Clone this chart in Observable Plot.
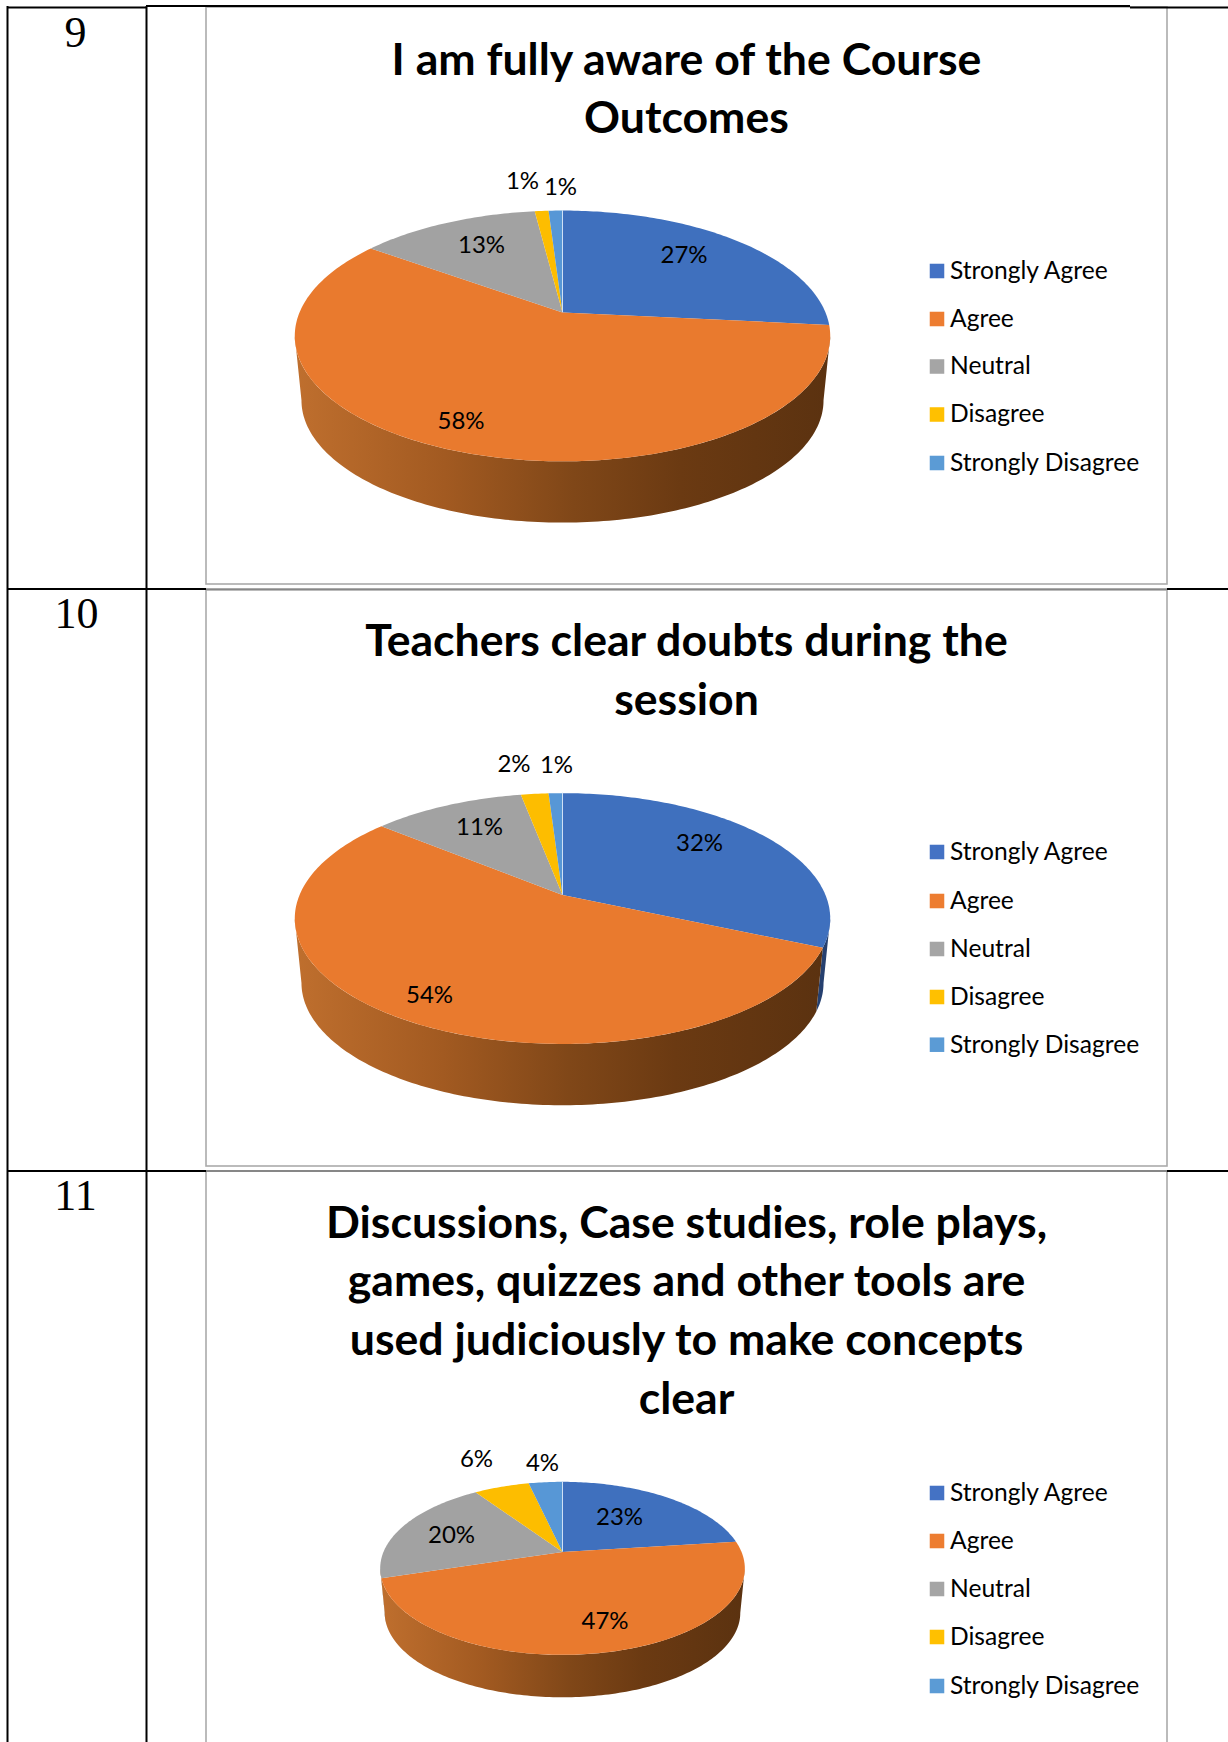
<!DOCTYPE html>
<html><head><meta charset="utf-8">
<style>html,body{margin:0;padding:0;background:#fff}svg{display:block}</style>
<script src="https://cdn.jsdelivr.net/npm/d3@7"></script>
<script src="https://cdn.jsdelivr.net/npm/@observablehq/plot@0.6"></script>
</head><body><div id="chart"></div>
<script>
// ---- data ----
const categories = ["Strongly Agree", "Agree", "Neutral", "Disagree", "Strongly Disagree"];
const rowNumbers = ["9", "10", "11"];
const titles1 = ["I am fully aware of the Course", "Outcomes"];
const titles2 = ["Teachers clear doubts during the", "session"];
const titles3 = ["Discussions, Case studies, role plays,", "games, quizzes and other tools are", "used judiciously to make concepts", "clear"];
// slice sizes; the labels print them rounded
const values1 = [26.6, 58.4, 13, 1, 1];
const values2 = [31.6, 54.4, 11, 2, 1];
const values3 = [23, 47.2, 20.3, 5.9, 3.6];

// ---- styles and layout ----
const colors = ["#4472c4", "#ed7d31", "#a5a5a5", "#ffc000", "#5b9bd5"];
const topColors = ["#3f70be", "#e97a2e", "#a2a2a2", "#fdbd00", "#5797d6"];
const W = 1228, H = 1742;
const LABEL_FONT = "Lato, sans-serif";
const TITLE_FONT = "Lato, sans-serif";
const panels = [
  {values: values1, titles: titles1, titleY: [60, 118], legendY: [270.5, 318.5, 366, 414, 462.5],
   cx: 562, cy: 312, R: 263, Ry: 121, k: 0.187, drop: 65, numX: 75, numY: 32,
   labelXY: [[683.5,254.5],[460.5,421],[481,244.5],[522,181],[560,187]]},
  {values: values2, titles: titles2, titleY: [641, 700], legendY: [851.5, 900.5, 948.5, 996.5, 1044.2],
   cx: 562, cy: 894.6, R: 263, Ry: 121, k: 0.187, drop: 65, numX: 76, numY: 613,
   labelXY: [[699,842.5],[429,994.6],[479,827],[513.5,763.5],[556,764.5]]},
  {values: values3, titles: titles3, titleY: [1223, 1281.5, 1340, 1399], legendY: [1492.5, 1540.5, 1588.5, 1636.5, 1685.5],
   cx: 562, cy: 1551.4, R: 179, Ry: 83.4, k: 0.19, drop: 45, numX: 75, numY: 1195,
   labelXY: [[619,1517],[604.5,1621],[451,1534.7],[476,1459],[542,1462.5]]}
];
const frames = [[206,7,1167,584],[206,590,1167,1166],[206,1171,1167,1760]];

// projection of a point of the tilted disc, with perspective
function project(p, deg, low) {
  const t = deg * Math.PI / 180, u = Math.sin(t), v = -Math.cos(t), w = 1 / (1 - p.k * v), s = low ? 0.975 : 1;
  return {x: p.cx + s * p.R * u * w, y: p.cy + (low ? p.drop : 0) + s * p.Ry * v * w};
}
function arcPoints(p, a0, a1, low) {
  const n = Math.max(2, Math.ceil(a1 - a0)), out = [];
  for (let i = 0; i <= n; i++) out.push(project(p, a0 + (a1 - a0) * i / n, low));
  return out;
}
const topRows = [], wallRows = [], orangeWallRows = [], labelRows = [], seamRows = [];
panels.forEach((p, pi) => {
  let acc = 0;
  const total = d3.sum(p.values);
  // only the part of the side facing the viewer is drawn: between the two silhouette angles
  const sil0 = Math.acos(-p.k) * 180 / Math.PI, sil1 = 360 - sil0;
  p.values.forEach((val, i) => {
    const a0 = acc / total * 360, a1 = (acc + val) / total * 360;
    acc += val;
    const id = pi + "-" + i;
    [{x: p.cx, y: p.cy}, ...arcPoints(p, a0, a1, false)].forEach(q => topRows.push({...q, id, cat: categories[i]}));
    const isMain = i === 1;
    const b0 = Math.max(a0, sil0), b1 = isMain ? sil1 : Math.min(a1, sil1);
    if (b1 > b0) {
      const wall = [...arcPoints(p, b0, b1, false), ...arcPoints(p, b0, b1, true).reverse()];
      wall.forEach(q => (isMain ? orangeWallRows : wallRows).push({...q, id, cat: categories[i]}));
    }
    labelRows.push({x: p.labelXY[i][0], y: p.labelXY[i][1], text: Math.round(val) + "%"});
  });
  seamRows.push({x: p.cx, y1: project(p, 0, false).y, y2: p.cy});
});
const titleRows = panels.flatMap(p => p.titles.map((text, i) => ({text, x: 686, y: p.titleY[i]})));
const legendRows = panels.flatMap(p => categories.map((cat, i) => ({cat, y: p.legendY[i]})));
const numberRows = panels.map((p, i) => ({text: rowNumbers[i], x: p.numX, y: p.numY}));

const gradient = () => {
  const ns = "http://www.w3.org/2000/svg";
  const defs = document.createElementNS(ns, "defs");
  const g = document.createElementNS(ns, "linearGradient");
  g.setAttribute("id", "orangeWall");
  [[0, "#bf6f2e"], [0.28, "#a25a21"], [0.52, "#804718"], [0.72, "#6b3a12"], [1, "#5b3210"]].forEach(([o, c]) => {
    const st = document.createElementNS(ns, "stop");
    st.setAttribute("offset", o); st.setAttribute("stop-color", c); g.appendChild(st);
  });
  defs.appendChild(g);
  return defs;
};
const rect = (x1, y1, x2, y2, o) => Plot.rect([{x1, y1, x2, y2}], {x1: "x1", y1: "y1", x2: "x2", y2: "y2", ...o});
const topFill = d => topColors[categories.indexOf(d.cat)];

const plot = Plot.plot({
  width: W, height: H, margin: 0,
  x: {domain: [0, W], range: [0, W], axis: null},
  y: {domain: [0, H], range: [0, H], axis: null},
  color: {domain: categories, range: colors},
  marks: [
    gradient,
    // chart frames
    ...frames.map(([a, b, c, d]) => rect(a, b, c, d, {fill: "white", stroke: "#ababab", strokeWidth: 1.6})),
    // table rules
    Plot.ruleY([{y: 7, a: 7, b: 146}, {y: 5.5, a: 146, b: 1130}, {y: 7, a: 1130, b: W}], {y: "y", x1: "a", x2: "b", stroke: "black", strokeWidth: 2}),
    Plot.ruleY([{y: 588.5, a: 7, b: 206}, {y: 1170.5, a: 7, b: 206}, {y: 588.5, a: 1167, b: W}, {y: 1170.5, a: 1167, b: W}], {y: "y", x1: "a", x2: "b", stroke: "black", strokeWidth: 2}),
    Plot.ruleY([{y: 588.5}, {y: 1170.5}], {y: "y", x1: 206, x2: 1167, stroke: "#555", strokeWidth: 1.2}),
    Plot.ruleX([7, 146], {y1: 6, y2: H, stroke: "black", strokeWidth: 2}),
    // pies: side walls, then tops
    Plot.line(wallRows, {x: "x", y: "y", z: "id", fill: d => d3.color(colors[categories.indexOf(d.cat)]).darker(1.6).formatHex(), stroke: null}),
    Plot.line(orangeWallRows, {x: "x", y: "y", z: "id", fill: "url(#orangeWall)", stroke: null}),
    Plot.line(topRows, {x: "x", y: "y", z: "id", fill: topFill, stroke: null}),
    Plot.ruleX(seamRows, {x: "x", y1: "y1", y2: "y2", stroke: "#cfe0f5", strokeWidth: 1}),
    // percentage labels
    Plot.text(labelRows, {x: "x", y: "y", text: "text", fontFamily: LABEL_FONT, fontSize: 24, fill: "black", lineAnchor: "middle"}),
    // titles and row numbers
    Plot.text(titleRows, {x: "x", y: "y", text: "text", fontFamily: TITLE_FONT, fontWeight: 700, fontSize: 44.6, fill: "black", lineAnchor: "middle"}),
    Plot.text(numberRows, {x: "x", y: "y", text: "text", fontFamily: "Liberation Serif, serif", fontSize: 44, fill: "black", lineAnchor: "middle"}),
    // legends
    Plot.dot(legendRows, {x: 936.5, y: "y", symbol: "square", r: 8.2, fill: "cat", stroke: null}),
    Plot.text(legendRows, {x: 949.5, y: "y", text: "cat", textAnchor: "start", fontFamily: LABEL_FONT, fontSize: 24.6, fill: "black", lineAnchor: "middle"})
  ]
});
document.getElementById("chart").appendChild(plot);
</script></body></html>
